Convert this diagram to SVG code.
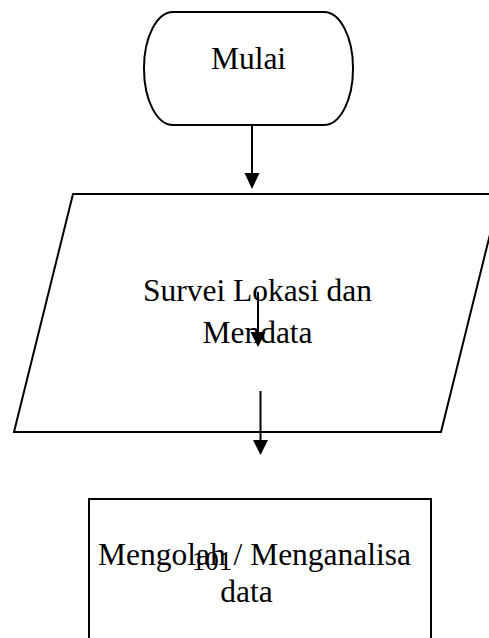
<svg xmlns="http://www.w3.org/2000/svg" width="489" height="638" viewBox="0 0 489 638">
  <style>
    .shape { fill: #ffffff; stroke: #000000; stroke-width: 2; }
    .label { font-family: "Liberation Serif", "Times New Roman", serif; font-size: 31.5px; fill: #000000; text-anchor: middle; }
    .edge { stroke: #000000; stroke-width: 2; fill: none; }
    .head { fill: #000000; }
  </style>

  <!-- start terminator -->
  <g id="node-mulai">
    <rect class="shape" x="144" y="12" width="209" height="113" rx="29" ry="56"/>
    <text class="label" x="248.5" y="69">Mulai</text>
  </g>

  <!-- input/output step -->
  <g id="node-survei">
    <polygon class="shape" points="73,194 500,194 441,432 14,432"/>
    <text class="label" x="257.5" y="301">Survei Lokasi dan</text>
    <text class="label" x="257.5" y="343">Mendata</text>
  </g>

  <!-- process step -->
  <g id="node-mengolah">
    <rect class="shape" x="89" y="499" width="342" height="150"/>
    <text class="label" x="254.5" y="565">Mengolah / Menganalisa</text>
    <text class="label" x="246.5" y="602">data</text>
  </g>

  <!-- page number -->
  <text class="label" x="212" y="570" style="font-size:27px">101</text>

  <!-- connectors -->
  <g id="connectors">
    <line class="edge" x1="252" y1="125" x2="252" y2="175"/>
    <polygon class="head" points="244.5,173 259.5,173 252,189"/>

    <line class="edge" x1="258" y1="292" x2="258" y2="334"/>
    <polygon class="head" points="250.5,332 265.5,332 258,347"/>

    <line class="edge" x1="260.5" y1="391" x2="260.5" y2="442"/>
    <polygon class="head" points="253,440 268,440 260.5,455"/>
  </g>
</svg>
